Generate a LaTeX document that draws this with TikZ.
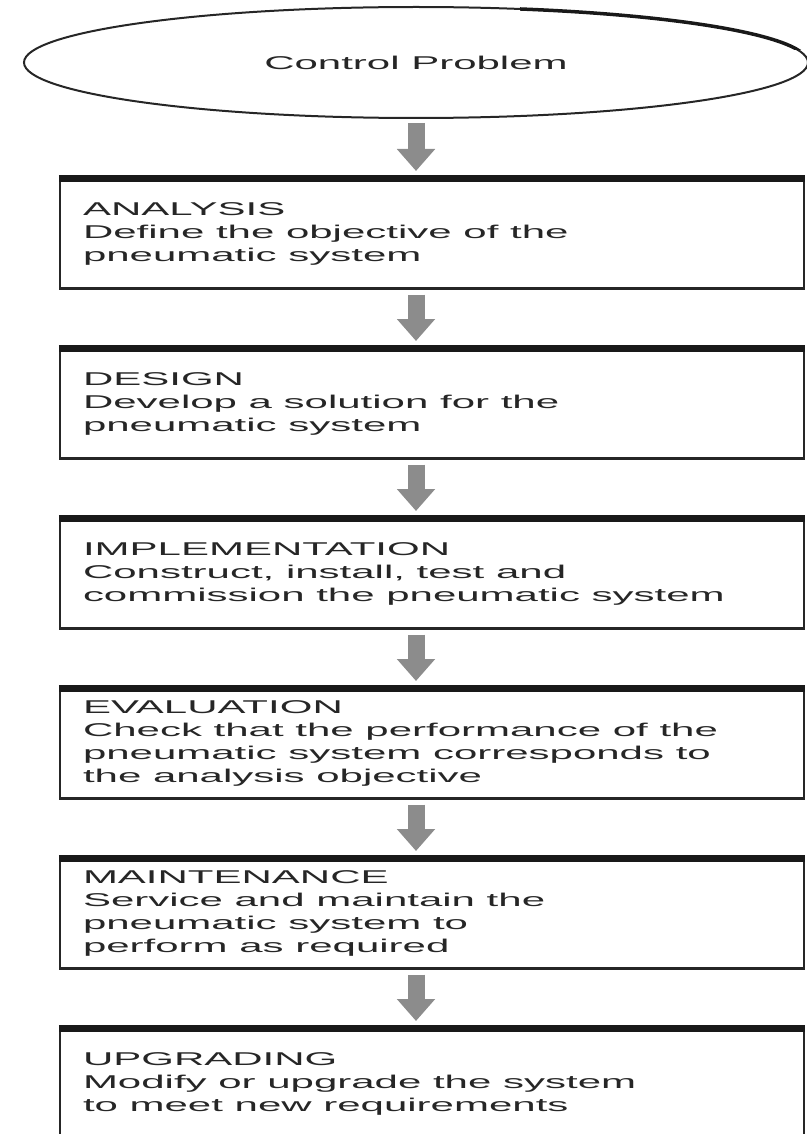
\documentclass[tikz,border=0pt]{standalone}
\usepackage{fontspec}
\setmainfont{Liberation Sans}[FakeStretch=2.27]
\usetikzlibrary{arrows.meta,shapes.geometric}

\tikzset{
  stage/.style={rectangle, draw=black!85, line width=2.4pt, outer sep=0pt,
    text width=698pt, inner xsep=23pt, minimum height=110pt, align=left,
    text=black!85, font=\fontsize{18.5}{23}\selectfont,
    execute at begin node={\spaceskip=0pt\xspaceskip=0pt}},
  topbar/.style={draw=black!90, line width=7pt, shorten <=-1.2pt, shorten >=-1.2pt},
  flowarrow/.style={draw=black!45, line width=17pt,
    -{Triangle[length=22pt, width=37pt]}},
}

\begin{document}
\begin{tikzpicture}[x=1pt, y=-1pt]
  \useasboundingbox (0,0) rectangle (806,1134);
  % problem
  \node[ellipse, draw=black!85, line width=2pt, outer sep=0pt, minimum width=784pt, minimum height=111pt,
    text=black!85, font=\fontsize{18.5}{23}\selectfont] (ell) at (416,62.5) {Control Problem};
  \begin{scope}
    \clip (520,0) rectangle (806,50);
    \draw[black!90, line width=3.5pt] (ell.center) ellipse [x radius=392pt, y radius=55.5pt];
  \end{scope}
  % stages
  \node[stage] (b1) at (432,233.5) {ANALYSIS\\Define the objective of the\\pneumatic system};
  \node[stage] (b2) at (432,403.5) {DESIGN\\Develop a solution for the\\pneumatic system};
  \node[stage] (b3) at (432,573.5) {IMPLEMENTATION\\Construct, install, test and\\commission the pneumatic system};
  \node[stage] (b4) at (432,743.5) {EVALUATION\\Check that the performance of the\\pneumatic system corresponds to\\the analysis objective};
  \node[stage] (b5) at (432,913.5) {MAINTENANCE\\Service and maintain the\\pneumatic system to\\perform as required};
  \node[stage] (b6) at (432,1083.5) {UPGRADING\\Modify or upgrade the system\\to meet new requirements};
  \foreach \b in {b1,b2,b3,b4,b5,b6}
    \draw[topbar] (\b.north west) -- (\b.north east);
  % arrows
  \draw[flowarrow] ([yshift=-5pt]ell.south) -- ([shift={(-16pt,7.5pt)}]b1.north);
  \foreach \a/\b in {b1/b2, b2/b3, b3/b4, b4/b5, b5/b6}
    \draw[flowarrow] ([shift={(-16pt,-6pt)}]\a.south) -- ([shift={(-16pt,7.5pt)}]\b.north);
\end{tikzpicture}
\end{document}
